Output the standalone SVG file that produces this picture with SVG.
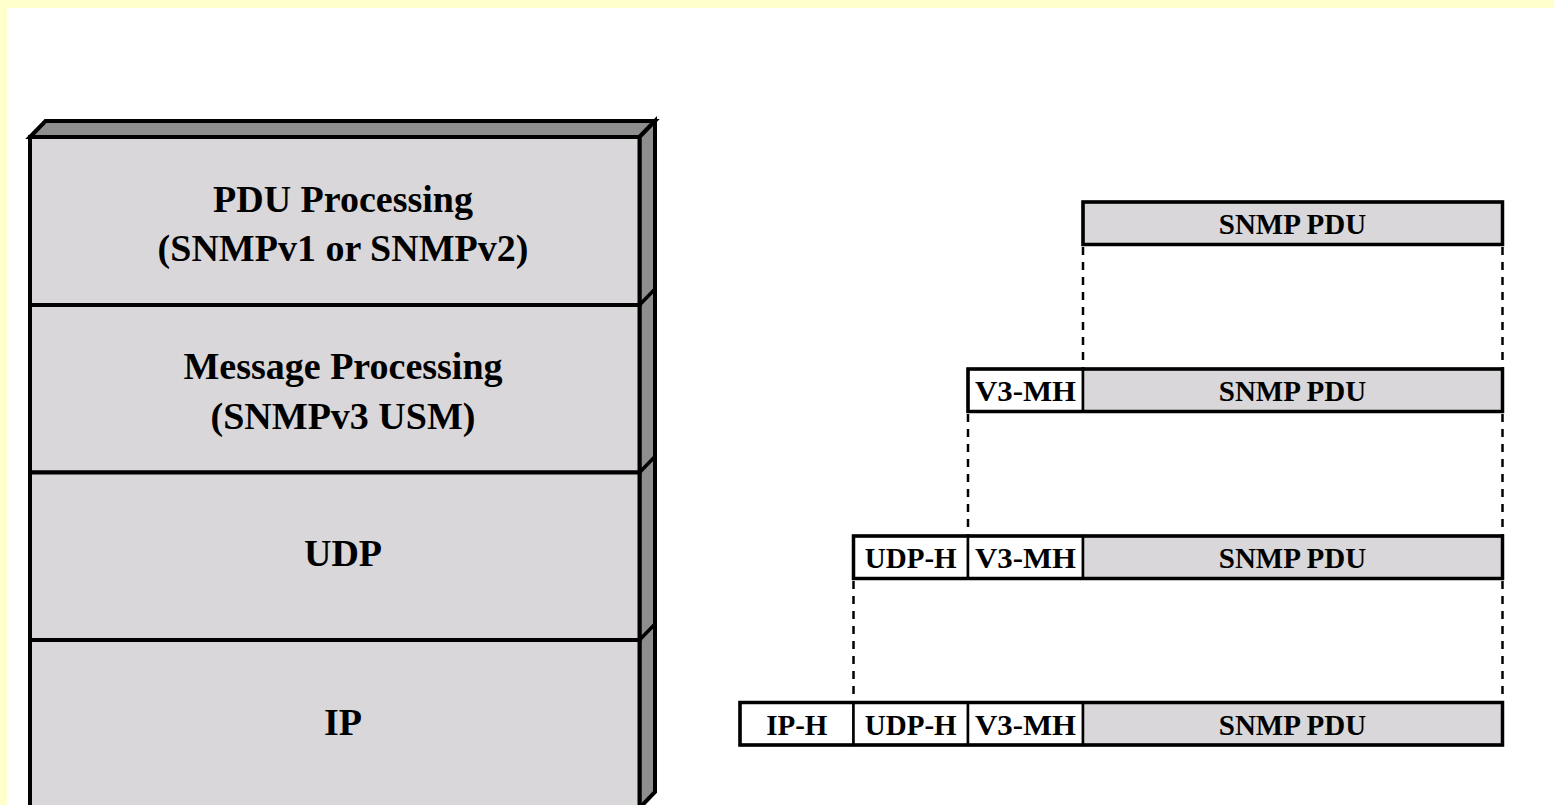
<svg xmlns="http://www.w3.org/2000/svg" width="1554" height="805" viewBox="0 0 1554 805">
<style>
.bg{fill:#FFFFCC}
.face{fill:#D9D7D9;stroke:#000;stroke-width:4}
.side{fill:#8E8E8E;stroke:#000;stroke-width:4;stroke-linejoin:miter}
.div{stroke:#000;stroke-width:3.5;fill:none}
.lbl{font-family:"Liberation Serif","Times New Roman",serif;font-weight:bold;font-size:38px;text-anchor:middle;fill:#000}
.plbl{font-family:"Liberation Serif","Times New Roman",serif;font-weight:bold;font-size:29px;text-anchor:middle;fill:#000}
.hdr{fill:#FFFFFF;stroke:#000;stroke-width:2.5}
.pdu{fill:#D9D7D9;stroke:#000;stroke-width:2.5}
.outer{fill:none;stroke:#000;stroke-width:3.5}
.dash{stroke:#000;stroke-width:2.5;stroke-dasharray:8 7;fill:none}
</style>
<rect x="0" y="0" width="1554" height="805" fill="#FFFFFF"/>
<rect class="bg" x="0" y="0" width="1554" height="8"/>
<rect class="bg" x="0" y="0" width="7" height="805"/>

<g id="stack">
  <polygon class="side" points="30,137 45.5,121 655,121 639.5,137"/>
  <polygon class="side" points="639.5,137 655,121 655,792 639.5,808"/>
  <g id="layer-pdu">
    <rect class="face" x="30" y="137" width="609.5" height="168"/>
    <text class="lbl" x="343" y="212">PDU Processing</text>
    <text class="lbl" x="343" y="261">(SNMPv1 or SNMPv2)</text>
  </g>
  <g id="layer-msg">
    <rect class="face" x="30" y="305" width="609.5" height="167.5"/>
    <text class="lbl" x="343" y="379">Message Processing</text>
    <text class="lbl" x="343" y="429">(SNMPv3 USM)</text>
  </g>
  <g id="layer-udp">
    <rect class="face" x="30" y="472.5" width="609.5" height="167.5"/>
    <text class="lbl" x="343" y="566">UDP</text>
  </g>
  <g id="layer-ip">
    <rect class="face" x="30" y="640" width="609.5" height="170"/>
    <text class="lbl" x="343" y="734.5">IP</text>
  </g>
  <path class="div" d="M639.5,305 L655,289 M639.5,472.5 L655,456.5 M639.5,640 L655,624"/>
</g>

<g id="connectors">
  <line class="dash" x1="1083" y1="247" x2="1083" y2="369"/>
  <line class="dash" x1="1502.5" y1="247" x2="1502.5" y2="369"/>
  <line class="dash" x1="968" y1="414" x2="968" y2="536"/>
  <line class="dash" x1="1502.5" y1="414" x2="1502.5" y2="536"/>
  <line class="dash" x1="853.5" y1="581" x2="853.5" y2="702.5"/>
  <line class="dash" x1="1502.5" y1="581" x2="1502.5" y2="702.5"/>
</g>

<g id="packet1">
  <rect class="pdu" x="1083" y="202" width="419.5" height="42.5"/>
  <rect class="outer" x="1083" y="202" width="419.5" height="42.5"/>
  <text class="plbl" x="1292.5" y="234">SNMP PDU</text>
</g>

<g id="packet2">
  <rect class="hdr" x="968" y="369" width="115" height="42.5"/>
  <rect class="pdu" x="1083" y="369" width="419.5" height="42.5"/>
  <rect class="outer" x="968" y="369" width="534.5" height="42.5"/>
  <text class="plbl" x="1025.5" y="401" textLength="101" lengthAdjust="spacingAndGlyphs">V3-MH</text>
  <text class="plbl" x="1292.5" y="401">SNMP PDU</text>
</g>

<g id="packet3">
  <rect class="hdr" x="853.5" y="536" width="114.5" height="42.5"/>
  <rect class="hdr" x="968" y="536" width="115" height="42.5"/>
  <rect class="pdu" x="1083" y="536" width="419.5" height="42.5"/>
  <rect class="outer" x="853.5" y="536" width="649" height="42.5"/>
  <text class="plbl" x="910.75" y="568">UDP-H</text>
  <text class="plbl" x="1025.5" y="568" textLength="101" lengthAdjust="spacingAndGlyphs">V3-MH</text>
  <text class="plbl" x="1292.5" y="568">SNMP PDU</text>
</g>

<g id="packet4">
  <rect class="hdr" x="740" y="702.5" width="113.5" height="42.5"/>
  <rect class="hdr" x="853.5" y="702.5" width="114.5" height="42.5"/>
  <rect class="hdr" x="968" y="702.5" width="115" height="42.5"/>
  <rect class="pdu" x="1083" y="702.5" width="419.5" height="42.5"/>
  <rect class="outer" x="740" y="702.5" width="762.5" height="42.5"/>
  <text class="plbl" x="796.75" y="734.5">IP-H</text>
  <text class="plbl" x="910.75" y="734.5">UDP-H</text>
  <text class="plbl" x="1025.5" y="734.5" textLength="101" lengthAdjust="spacingAndGlyphs">V3-MH</text>
  <text class="plbl" x="1292.5" y="734.5">SNMP PDU</text>
</g>
</svg>
